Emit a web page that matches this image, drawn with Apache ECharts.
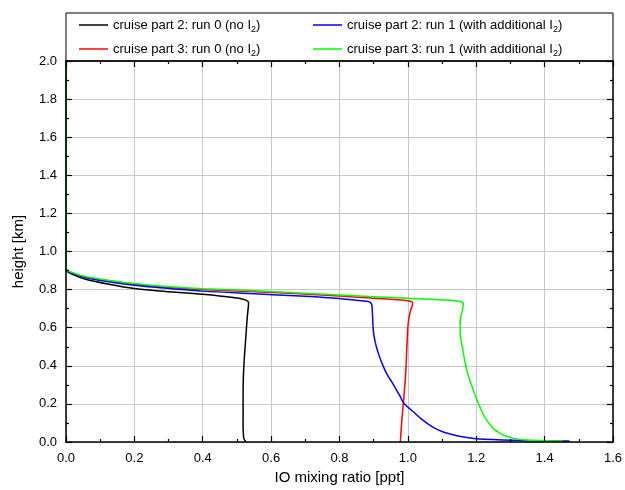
<!DOCTYPE html>
<html>
<head>
<meta charset="utf-8">
<script src="https://cdn.jsdelivr.net/npm/echarts@6/dist/echarts.min.js"></script>
<style>
html,body{margin:0;padding:0;background:#fff;}
#chart{width:625px;height:490px;}
</style>
</head>
<body>
<div id="chart"></div>
<script>
// Series names
var seriesNames = [
  'cruise part 2: run 0 (no I2)',
  'cruise part 3: run 0 (no I2)',
  'cruise part 2: run 1 (with additional I2)',
  'cruise part 3: run 1 (with additional I2)'
];
var seriesColors = ['#000000', '#ff0000', '#0000ff', '#00ff00'];

// [IO mixing ratio (ppt), height (km)]
var part2run0 = [[0,2.0],[0,0.905],[0.021,0.879],[0.06,0.853],[0.129,0.827],[0.2,0.806],[0.275,0.793],[0.4,0.775],[0.489,0.758],[0.524,0.746],[0.534,0.732],[0.53,0.65],[0.526,0.55],[0.522,0.45],[0.519,0.35],[0.518,0.25],[0.518,0.1],[0.52,0.02],[0.527,0.0]];
var part3run0 = [[0,2.0],[0,0.91],[0.021,0.886],[0.06,0.865],[0.129,0.845],[0.2,0.828],[0.275,0.815],[0.4,0.8],[0.538,0.79],[0.8,0.767],[0.9,0.755],[1.0,0.742],[1.012,0.735],[1.014,0.725],[1.008,0.69],[1.003,0.65],[1.0,0.602],[0.996,0.45],[0.993,0.342],[0.989,0.25],[0.985,0.168],[0.981,0.08],[0.978,0.0]];
var part2run1 = [[0,2.0],[0,0.91],[0.021,0.884],[0.06,0.862],[0.129,0.84],[0.2,0.823],[0.275,0.81],[0.4,0.792],[0.538,0.779],[0.7,0.765],[0.8,0.753],[0.884,0.737],[0.894,0.723],[0.896,0.689],[0.899,0.585],[0.905,0.52],[0.914,0.464],[0.925,0.41],[0.938,0.359],[0.956,0.307],[0.975,0.247],[0.987,0.207],[1.0,0.183],[1.015,0.16],[1.04,0.12],[1.073,0.078],[1.1,0.055],[1.132,0.038],[1.16,0.027],[1.2,0.017],[1.307,0.009],[1.473,0.005]];
var part3run1 = [[0,2.0],[0,0.91],[0.021,0.888],[0.06,0.867],[0.129,0.848],[0.2,0.832],[0.275,0.819],[0.4,0.805],[0.567,0.793],[0.8,0.772],[1.0,0.754],[1.123,0.744],[1.152,0.737],[1.162,0.727],[1.159,0.69],[1.154,0.65],[1.153,0.585],[1.156,0.53],[1.161,0.481],[1.167,0.42],[1.175,0.359],[1.185,0.305],[1.195,0.255],[1.207,0.2],[1.219,0.151],[1.233,0.108],[1.249,0.073],[1.268,0.048],[1.288,0.03],[1.31,0.019],[1.336,0.012],[1.404,0.007],[1.453,0.005]];
var seriesData = [part2run0, part3run0, part2run1, part3run1];

var xAxisName = 'IO mixing ratio [ppt]';
var yAxisName = 'height [km]';

var FONT = 'Liberation Sans, Arial, sans-serif';
var chart = echarts.init(document.getElementById('chart'), null, {renderer: 'canvas'});

function legendFmt(name) {
  return name.replace('I2', 'I{s|2}');
}
var legendText = {
  fontFamily: FONT, fontSize: 13, color: '#000', lineHeight: 16,
  rich: { s: { fontFamily: FONT, fontSize: 9, color: '#000', padding: [9, 0, 0, 0] } }
};

function frameX(pos) {
  return {
    type: 'value', position: pos, min: 0, max: 1.6, interval: 0.2, z: 50,
    axisLine: {show: true, onZero: false, lineStyle: {color: '#000', width: 1.5}},
    axisTick: {show: true, inside: true, length: 6, lineStyle: {color: '#000', width: 1.2}},
    minorTick: {show: true, splitNumber: 2, length: 3, lineStyle: {color: '#000', width: 1.2}},
    axisLabel: {show: false}, splitLine: {show: false}
  };
}
function frameY(pos) {
  return {
    type: 'value', position: pos, min: 0, max: 2.0, interval: 0.2, z: 50,
    axisLine: {show: true, onZero: false, lineStyle: {color: '#000', width: 1.5}},
    axisTick: {show: true, inside: true, length: 6, lineStyle: {color: '#000', width: 1.2}},
    minorTick: {show: true, splitNumber: 2, length: 3, lineStyle: {color: '#000', width: 1.2}},
    axisLabel: {show: false}, splitLine: {show: false}
  };
}

var xMain = {
  type: 'value', position: 'bottom', min: 0, max: 1.6, interval: 0.2, z: 0,
  axisLine: {show: false}, axisTick: {show: false},
  axisLabel: {show: true, fontFamily: FONT, fontSize: 13, color: '#000', margin: 10,
    formatter: function (v) { return v.toFixed(1); }},
  splitLine: {show: true, lineStyle: {color: '#c8c8c8', width: 1}},
  name: xAxisName, nameLocation: 'middle', nameGap: 28,
  nameTextStyle: {fontFamily: FONT, fontSize: 15, color: '#000'}
};
var yMain = {
  type: 'value', position: 'left', min: 0, max: 2.0, interval: 0.2, z: 0,
  axisLine: {show: false}, axisTick: {show: false},
  axisLabel: {show: true, fontFamily: FONT, fontSize: 13, color: '#000', margin: 9,
    formatter: function (v) { return v.toFixed(1); }},
  splitLine: {show: true, lineStyle: {color: '#c8c8c8', width: 1}},
  name: yAxisName, nameLocation: 'middle', nameGap: 40,
  nameTextStyle: {fontFamily: FONT, fontSize: 15, color: '#000'}
};

var series = seriesData.map(function (d, i) {
  return {
    name: seriesNames[i], type: 'line', data: d, xAxisIndex: 0, yAxisIndex: 0,
    showSymbol: false, symbol: 'none', smooth: 0.3, animation: false,
    lineStyle: {color: seriesColors[i], width: 1.5}, itemStyle: {color: seriesColors[i]},
    z: 10 + i
  };
});

chart.setOption({
  animation: false,
  backgroundColor: '#fff',
  grid: {left: 66, right: 12, top: 61, bottom: 45, containLabel: false},
  xAxis: [xMain, frameX('bottom'), frameX('top')],
  yAxis: [yMain, frameY('left'), frameY('right')],
  legend: [
    {data: [seriesNames[0], seriesNames[1]], orient: 'vertical', left: 79, top: 17, padding: 0,
     itemWidth: 29, itemHeight: 1.5, icon: 'rect', itemGap: 7, formatter: legendFmt,
     textStyle: legendText, selectedMode: false},
    {data: [seriesNames[2], seriesNames[3]], orient: 'vertical', left: 313, top: 17, padding: 0,
     itemWidth: 29, itemHeight: 1.5, icon: 'rect', itemGap: 7, formatter: legendFmt,
     textStyle: legendText, selectedMode: false}
  ],
  graphic: [{
    type: 'rect', shape: {x: 66, y: 13, width: 547, height: 48},
    style: {fill: 'none', stroke: '#000', lineWidth: 1}, z: 100
  }],
  series: series
});
</script>
</body>
</html>
